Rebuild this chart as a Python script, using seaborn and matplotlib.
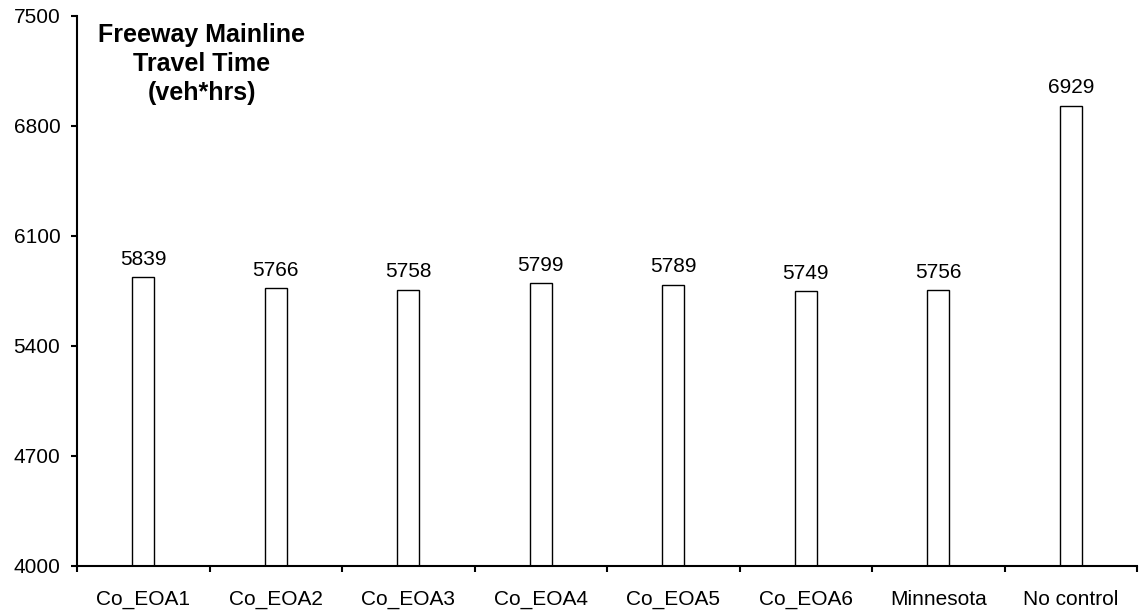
import matplotlib
matplotlib.use("Agg")
import matplotlib.pyplot as plt
import seaborn as sns
import pandas as pd
import numpy as np

categories = ["Co_EOA1", "Co_EOA2", "Co_EOA3", "Co_EOA4", "Co_EOA5", "Co_EOA6", "Minnesota", "No control"]
travel_time = [5839, 5766, 5758, 5799, 5789, 5749, 5756, 6929]
y_ticks = [4000, 4700, 5400, 6100, 6800, 7500]

sns.set_style("ticks")
plt.rcParams["font.family"] = ["Liberation Sans", "DejaVu Sans"]
plt.rcParams["text.color"] = "black"
plt.rcParams["xtick.color"] = "black"
plt.rcParams["ytick.color"] = "black"

df = pd.DataFrame({"scenario": categories, "veh_hrs": travel_time})

fig = plt.figure(figsize=(11.39, 6.13), dpi=100)
ax = fig.add_axes([0.0676, 0.0767, 0.9307, 0.8973])

sns.barplot(data=df, x="scenario", y="veh_hrs", order=categories, ax=ax,
            width=0.166, color="white", edgecolor="black", linewidth=1.0)

ax.set_ylim(4000, 7500)
ax.set_yticks(y_ticks)
ax.set_xlim(-0.5, len(categories) - 0.5)
ax.set_xlabel("")
ax.set_ylabel("")

# category labels centred under bars, tick marks at category boundaries
ax.set_xticks(range(len(categories)))
ax.set_xticklabels(categories, fontsize=15)
ax.set_xticks(np.arange(-0.5, len(categories)), minor=True)
ax.tick_params(axis="x", which="major", bottom=False, length=0, pad=17)
ax.tick_params(axis="x", which="minor", bottom=True, length=4.5, width=1.5, direction="out")
ax.tick_params(axis="y", left=True, length=4, width=1.5, direction="out", labelsize=15, pad=8)

for side in ["top", "right"]:
    ax.spines[side].set_visible(False)
for side in ["left", "bottom"]:
    ax.spines[side].set_color("black")
    ax.spines[side].set_linewidth(1.5)

ax.bar_label(ax.containers[0], labels=[str(v) for v in travel_time], padding=6, fontsize=15)

ax.text(0.1773, 0.962, "Freeway Mainline\nTravel Time\n(veh*hrs)", transform=fig.transFigure,
        ha="center", va="top", fontsize=18, fontweight="bold", linespacing=1.25)

fig.savefig("out.png", dpi=100)
